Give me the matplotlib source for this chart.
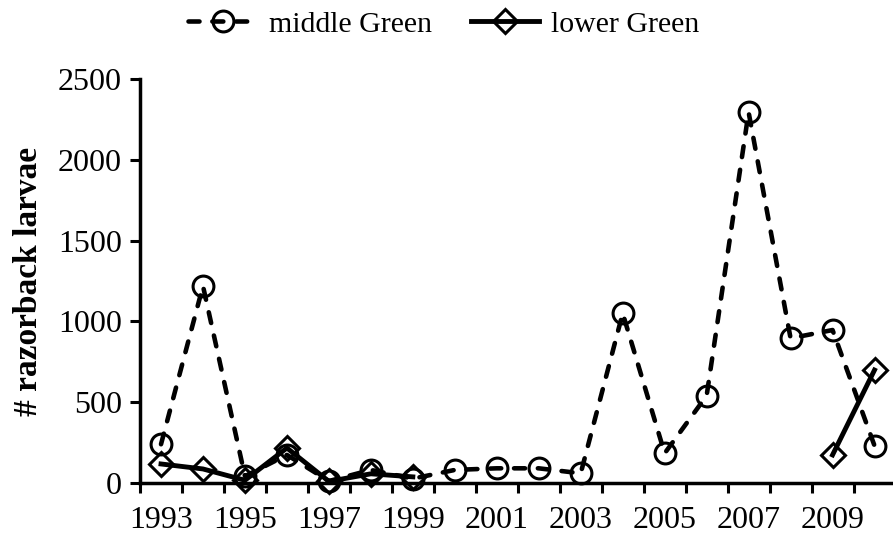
import matplotlib
matplotlib.use("Agg")
import matplotlib.pyplot as plt
import numpy as np

years = [1993, 1994, 1995, 1996, 1997, 1998, 1999, 2000, 2001, 2002,
         2003, 2004, 2005, 2006, 2007, 2008, 2009, 2010]
middle_green = [238, 1219, 40, 172, 10, 79, 25, 79, 89, 89,
                58, 1050, 182, 539, 2296, 895, 946, 229]
lower_green = [116, 85, 15, 215, 8, 55, 36, None, None, None,
               None, None, None, None, None, None, 172, 698]
tick_labels = ["1993", "1995", "1997", "1999", "2001", "2003", "2005", "2007", "2009"]

plt.rcParams['font.family'] = ['Liberation Serif', 'DejaVu Serif']

fig = plt.figure(figsize=(8.93, 5.39), dpi=100)
ax = fig.add_axes([0.1568, 0.1045, 0.846, 0.7484])

x = np.arange(len(years))
mg = np.array(middle_green, dtype=float)
lg = np.array([np.nan if v is None else v for v in lower_green], dtype=float)

ax.plot(x, mg, color='black', lw=3.3, linestyle=(0, (2.4, 2.8)),
        dash_capstyle='round',
        marker='o', markersize=15, markerfacecolor='none',
        markeredgewidth=2.2, markeredgecolor='black', label='middle Green')
ax.plot(x, lg, color='black', lw=3.5, linestyle='-',
        marker='D', markersize=12.5, markerfacecolor='none',
        markeredgewidth=2.2, markeredgecolor='black', label='lower Green')

ax.set_xlim(-0.5, len(years) - 0.5)
ax.set_ylim(0, 2500)
ax.set_yticks([0, 500, 1000, 1500, 2000, 2500])
ax.set_xticks(np.arange(-0.5, len(years), 1), minor=False)
ax.set_xticklabels([])
ax.set_xticks(np.arange(0, len(years), 2), minor=True)
ax.set_xticklabels(tick_labels, minor=True)
ax.tick_params(axis='x', which='major', direction='out', length=7, width=2.2)
ax.tick_params(axis='x', which='minor', length=0, labelsize=23, pad=17)
ax.tick_params(axis='y', direction='out', length=7, width=2.2, labelsize=23, pad=6)

for s in ['top', 'right']:
    ax.spines[s].set_visible(False)
for s in ['left', 'bottom']:
    ax.spines[s].set_linewidth(2.5)
ax.spines['bottom'].set_zorder(0)

ax.set_ylabel('# razorback larvae', fontsize=24, fontweight='bold', labelpad=10)

fig.legend(loc='upper center', bbox_to_anchor=(0.497, 1.03), ncol=2, frameon=False,
           fontsize=21.5, handlelength=2.3, columnspacing=1.3, handletextpad=0.4)

for line in ax.get_lines():
    line.set_clip_on(False)

fig.savefig('out.png', dpi=100)
